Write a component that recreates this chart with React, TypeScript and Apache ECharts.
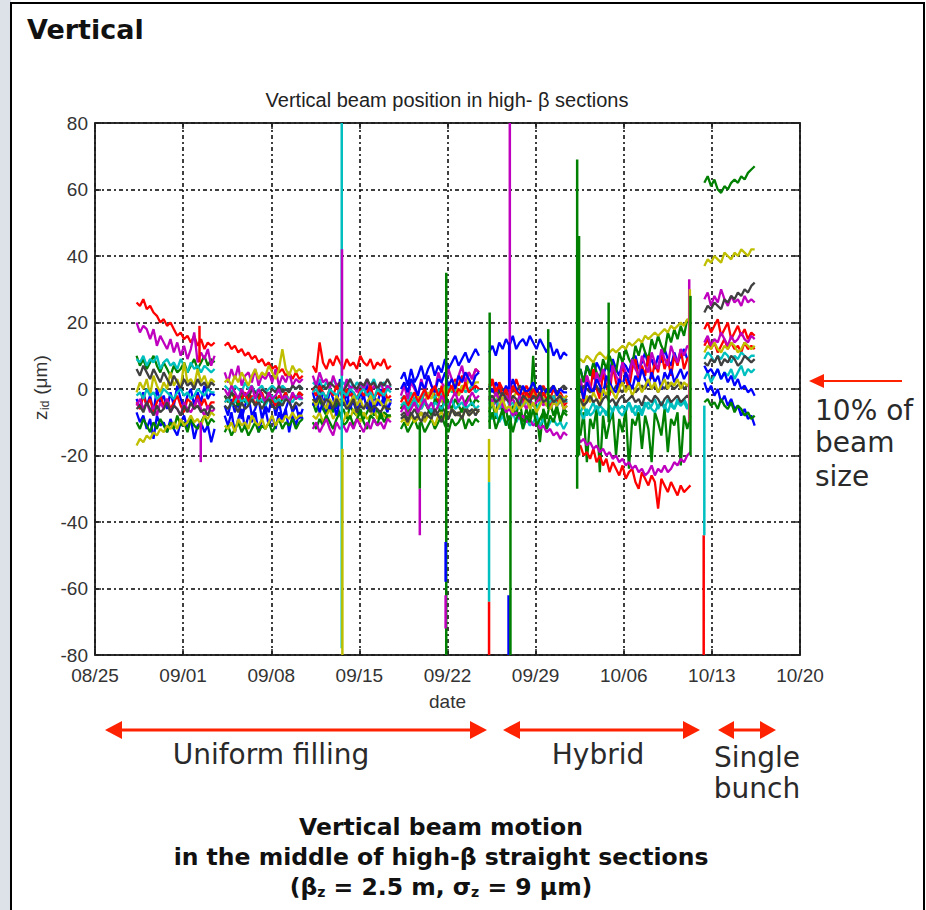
import React, { useEffect, useRef } from "react";
import * as echarts from "echarts";

// ---------- axis / segments ----------
const dateLabels = ["08/25", "09/01", "09/08", "09/15", "09/22", "09/29", "10/06", "10/13", "10/20"];
const segStart = [3.3, 10.3, 17.3, 24.3, 31.3, 38.3, 48.4];
const segEnd = [9.5, 16.5, 23.5, 30.5, 37.5, 47.3, 52.4];

// ---------- series values (one array per run segment) ----------
const blueA = [
  [-3, -6, -1, -5, -2, -7, 0, -4, -2, -6, -1, -5, 1, -3, -6, -2, 0, -5, -1, -4, 1, -3, -1, -2],
  [-5, -8, -3, -7, -4, -9, -5, -2, -8, -6, -3, -9, -5, -7, -2, -8, -4, -9, -6, -3, -7, -5, -9, -6],
  [-1, -5, 2, -4, -7, 0, -3, -6, 3, -2, -5, 1, -4, -7, -1, -3, 2, -6, -2, -5, 0, -4, -7, -3],
  [3, 5, 1, 6, 2, 4, 7, 3, 6, 8, 4, 7, 5, 9, 6, 8, 10, 7, 9, 11, 8, 10, 12, 10],
  [11, 13, 10, 14, 12, 15, 13, 16, 12, 14, 15, 13, 16, 14, 12, 15, 13, 11, 14, 10, 12, 9, 11, 10],
  [4, 6, 2, 7, 5, 3, 8, 6, 4, 7, 5, 9, 6, 4, 8, 7, 5, 9, 10, 6, 8, 11, 7, 9, 6, 10, 8, 12, 9, 7, 11, 8, 10, 12, 9, 10],
  [2, -1, 1, -2, 0, -4, -2, -5, -3, -6, -5, -8, -6, -9, -8, -11],
];
const greenA = [
  [10, 7, 9, 6, 8, 10, 7, 5, 8, 6, 4, 7, 5, 6, 8, 5, 7, 9, 6, 8, 10, 7, 9, 8],
  [-2, -4, -1, -3, -5, -2, -4, -1, -3, -5, -2, -4, -3, -1, -4, -2, -5, -3, -1, -4, -2, -3, -1, -2],
  [-4, -7, -3, -6, -8, -5, -7, -4, -8, -6, -9, -5, -7, -8, -6, -9, -7, -5, -8, -6, -9, -7, -8, -8],
  [-12, -10, -13, -11, -9, -12, -10, -13, -11, -9, -12, -10, -8, -11, -13, -9, -11, -10, -8, -12, -9, -11, -9, -10],
  [-7, -4, -9, 2, -8, -6, -12, -5, -8, -3, -10, -6, -9, 10, -7, -16, -6, -9, -4, -8, -5, -10, -6, -7],
  [3, 6, 2, 7, 4, 8, 5, 3, 9, 6, 10, 7, 5, 11, 8, 12, 9, 7, 13, 10, 14, 11, 9, 15, 12, 16, 13, 11, 17, 14, 18, 15, 19, 16, 21, 19],
  [62, 64, 61, 63, 60, 59, 61, 60, 62, 63, 62, 64, 63, 65, 66, 67],
];
const redA = [
  [26, 25, 27, 24, 25, 23, 22, 20, 21, 19, 20, 18, 16, 17, 15, 16, 14, 16, 13, 15, 12, 14, 13, 14],
  [13, 14, 12, 13, 11, 12, 10, 11, 9, 10, 8, 9, 7, 8, 6, 7, 5, 6, 4, 5, 3, 5, 3, 4],
  [7, 5, 14, 8, 6, 9, 7, 10, 8, 6, 9, 7, 8, 6, 10, 8, 7, 9, 6, 8, 7, 9, 6, 7],
  [-6, -4, -7, -3, -5, -2, -4, -1, -3, 0, -2, -4, 1, -1, 2, 0, 3, 1, 4, 2, 5, 3, 6, 5],
  [1, 3, -1, 2, 0, -2, 1, -1, 3, 0, -2, 1, -1, -3, 0, -2, 1, -1, -3, 0, -2, -1, -3, -2],
  [-2, 3, -4, 4, -1, 6, 0, -3, 5, 1, -2, 7, 2, -1, 8, 3, 0, 6, 9, 2, 7, 4, 10, 3, 8, 5, 11, 6, 9, 4, 10, 7, 12, 6, 9, 10],
  [18, 20, 17, 19, 21, 16, 18, 20, 15, 17, 19, 16, 18, 15, 17, 16],
];
const cyanA = [
  [9, 8, 10, 7, 9, 8, 10, 6, 8, 9, 7, 8, 6, 9, 7, 5, 8, 6, 7, 5, 7, 6, 5, 6],
  [1, 0, -1, 1, 0, -1, 2, 0, 1, -1, 0, 1, -1, 0, 1, 0, -1, 1, 0, -1, 1, 0, 1, 0],
  [2, 1, 3, 0, 2, 1, 3, 1, 0, 2, 1, 3, 0, 2, 1, 0, 2, 1, 3, 0, 1, 2, 0, 1],
  [-3, -2, -4, -1, -3, -2, -4, 0, -2, -1, -3, 0, -2, -1, 1, -1, 0, -2, 1, -1, 0, 1, -1, 0],
  [-8, -9, -7, -10, -8, -11, -9, -7, -10, -8, -12, -9, -11, -10, -8, -11, -9, -12, -10, -9, -11, -10, -12, -10],
  [-6, -7, -5, -8, -6, -4, -7, -5, -6, -8, -5, -7, -4, -6, -5, -7, -4, -6, -8, -5, -7, -4, -6, -5, -3, -6, -4, -5, -7, -4, -6, -3, -5, -4, -6, -4],
  [3, 5, 2, 4, 6, 3, 5, 4, 6, 3, 5, 7, 4, 6, 5, 6],
];
const magentaA = [
  [20, 17, 19, 18, 15, 18, 13, 16, 14, 12, 15, 11, 14, 10, 13, 9, 12, 17, 8, 11, 9, 12, 7, 10],
  [5, 2, 6, 3, 7, 1, 4, 5, 2, 6, 1, 4, 3, 5, 2, 6, 1, 4, 2, 5, 1, 3, 2, 3],
  [4, 1, 5, 2, 3, 0, 4, 1, 2, -1, 3, 0, 1, -1, 2, 0, 3, -1, 1, 0, 2, -1, 1, 0],
  [-2, 1, -3, 2, 0, -2, 3, -1, 4, 1, -1, 5, 2, 0, 6, 3, 1, 4, 7, 2, 5, 3, 6, 5],
  [-3, -5, -4, -6, -5, -7, -6, -8, -7, -9, -8, -10, -9, -11, -10, -12, -11, -13, -12, -14, -13, -15, -13, -14],
  [0, 3, -2, 4, 1, -1, 5, 2, 6, 3, 1, 7, 4, 2, 8, 5, 3, 9, 6, 4, 10, 7, 5, 11, 8, 6, 12, 9, 7, 13, 10, 8, 12, 10, 13, 12],
  [27, 29, 25, 28, 26, 30, 27, 25, 28, 26, 27, 25, 28, 26, 27, 26],
];
const yellowA = [
  [-1, 2, 0, 3, -2, 4, 1, -1, 2, 0, 5, 1, 3, 0, 8, 2, 3, 1, 6, 2, 4, 1, 3, 2],
  [2, 3, 1, 4, 2, 5, 3, 1, 4, 6, 3, 5, 4, 7, 5, 3, 6, 12, 6, 4, 7, 5, 6, 5],
  [-8, -9, -7, -10, -8, -6, -9, -7, -8, -10, -7, -9, -6, -8, -10, -7, -9, -8, -6, -9, -7, -8, -9, -8],
  [-6, -4, -7, -3, -5, -2, -6, -4, -1, -3, 0, -2, -4, 1, -1, 0, 2, -2, 1, 0, 3, 1, 2, 2],
  [-3, -2, -4, -1, -3, -2, -4, -3, -1, -2, -4, -2, -3, -1, -2, -4, -3, -1, -2, -3, -1, -2, -3, -2],
  [8, 9, 8, 10, 9, 8, 10, 11, 10, 9, 11, 12, 11, 12, 13, 12, 14, 13, 14, 15, 14, 16, 15, 16, 17, 16, 17, 18, 17, 19, 18, 19, 20, 19, 21, 20],
  [37, 39, 38, 40, 39, 38, 41, 40, 39, 41, 40, 42, 41, 40, 42, 42],
];
const grayA = [
  [6, 4, 7, 5, 3, 6, 4, 2, 5, 3, 1, 4, 2, 0, 3, 1, 2, 0, 3, 1, 2, 0, 2, 1],
  [-2, -3, -1, -2, -3, -1, -2, -3, 0, -1, -2, 0, -1, -2, 0, -1, 1, -1, 0, -1, 1, 0, 1, 0],
  [0, 1, -1, 1, 0, 2, 1, 0, 2, -1, 1, 3, 1, 0, 2, 1, 3, 1, 2, 0, 2, 1, 3, 1],
  [-8, -7, -9, -8, -6, -8, -7, -9, -7, -6, -8, -7, -5, -7, -9, -6, -7, -8, -6, -5, -7, -6, -8, -6],
  [-1, 0, -2, -1, 0, -1, -2, 0, -1, 1, 0, -1, -2, 0, -1, 1, 0, -1, 0, 1, -1, 0, 1, 0],
  [0, -1, 1, 0, -1, 0, 1, -1, 0, 1, 0, -1, 1, 0, -1, 1, 0, 1, -1, 0, 1, 0, 2, 0, 1, -1, 1, 0, 2, 1, 0, 1, 2, 0, 1, 1],
  [23, 25, 24, 26, 25, 24, 27, 26, 28, 27, 29, 28, 30, 29, 31, 32],
];
const blueB = [
  [-7, -10, -8, -12, -9, -15, -8, -11, -10, -13, -9, -12, -14, -10, -8, -12, -9, -15, -11, -10, -13, -11, -16, -12],
  [-8, -11, -7, -13, -9, -6, -12, -8, -10, -7, -13, -9, -6, -11, -8, -12, -7, -10, -6, -13, -8, -11, -7, -9],
  [-5, -3, -7, -4, -2, -6, -4, -8, -3, -5, -1, -6, -3, -7, -4, -2, -6, -4, -7, -3, -5, -2, -6, -4],
  [0, 2, -1, 3, 1, -2, 2, 0, 4, 1, -1, 3, 2, 5, 1, 3, 0, 4, 2, 5, 3, 1, 4, 5],
  [1, -1, 2, 0, -2, 1, -1, 3, 0, -2, 1, -1, 0, 2, -1, 1, -2, 0, -1, 1, -2, 0, -1, -1],
  [-2, 1, -3, 2, 0, -1, 3, 1, -2, 4, 2, 0, -1, 3, 1, 5, 2, 0, 4, 2, 6, 3, 1, 5, 2, 4, 0, 5, 3, 6, 2, 4, 6, 3, 5, 5],
  [7, 5, 6, 4, 6, 3, 5, 2, 4, 1, 3, 0, 1, -1, 0, -2],
];
const greenB = [
  [-10, -12, -9, -11, -13, -10, -12, -9, -11, -13, -10, -12, -8, -11, -10, -13, -9, -11, -12, -10, -8, -11, -9, -10],
  [-13, -11, -14, -12, -10, -13, -11, -14, -12, -10, -13, -11, -12, -10, -13, -11, -9, -12, -10, -11, -9, -12, -10, -9],
  [-10, -12, -9, -11, -8, -10, -12, -9, -7, -11, -10, -8, -11, -9, -7, -10, -12, -8, -9, -11, -7, -10, -8, -8],
  [-6, -4, -8, -5, -3, -7, -5, -4, -6, -8, -3, -5, -7, -2, -4, -6, -3, -5, -7, -4, -2, -5, -3, -4],
  [-10, -7, -12, -9, -6, -11, -8, -13, -9, -7, -12, -8, -10, -6, -11, -9, -7, -12, -8, -10, -6, -9, -7, -8],
  [-10, -14, -7, -22, -9, -12, -6, -25, -8, -15, -10, -7, -20, -9, -13, -6, -24, -9, -11, -7, -18, -8, -12, -22, -7, -10, -14, -6, -19, -9, -11, -7, -23, -8, -12, -8],
  [-4, -3, -5, -4, -6, -3, -5, -6, -4, -7, -5, -6, -8, -7, -9, -8],
];
const redB = [
  [-4, -6, -2, -5, -3, -7, -4, -2, -5, -3, -6, -4, -2, -5, -7, -3, -4, -6, -2, -5, -3, -6, -4, -4],
  [-4, -3, -5, -2, -4, -3, -1, -4, -2, -5, -3, -1, -4, -2, -3, -5, -2, -3, -1, -4, -2, -3, -1, -2],
  [0, -2, 1, -1, -3, 0, -2, 1, -1, -3, 0, -2, -1, -3, 0, -2, -1, 1, -3, -1, -2, 0, -3, -2],
  [-4, -2, -5, -3, -1, -4, -2, 0, -3, -1, 1, -2, 0, -3, -1, 1, -2, 0, -1, 2, -1, 0, 1, 0],
  [0, 2, -1, 1, -2, 0, -3, 1, -1, -2, -4, -1, -3, 0, -2, -4, -1, -3, -5, -2, -4, -3, -5, -4],
  [-18, -17, -20, -19, -21, -18, -22, -20, -23, -21, -25, -22, -24, -26, -23, -27, -25, -24, -28, -30, -25, -27, -29, -26, -28, -36, -27, -29, -31, -28, -30, -32, -29, -31, -30, -29],
  [13, 15, 12, 14, 11, 13, 15, 12, 14, 12, 13, 11, 14, 12, 13, 12],
];
const cyanB = [
  [-2, -1, -3, 0, -2, -1, -3, -2, 0, -1, -2, -3, -1, 0, -2, -1, -3, -2, 0, -1, -2, 0, -1, -1],
  [-4, -3, -5, -4, -2, -4, -3, -5, -3, -2, -4, -3, -5, -3, -2, -4, -3, -5, -2, -3, -4, -2, -3, -3],
  [-1, 0, -2, -1, -3, 0, -1, -2, 0, -1, -2, 0, -1, -3, -1, 0, -2, -1, -3, 0, -1, -2, 0, -1],
  [-5, -4, -6, -5, -3, -5, -6, -4, -5, -7, -4, -5, -6, -4, -5, -3, -6, -5, -4, -6, -5, -4, -6, -5],
  [-4, -5, -3, -6, -4, -2, -5, -4, -6, -3, -5, -4, -3, -5, -6, -4, -3, -5, -4, -2, -5, -4, -3, -4],
  [-8, -7, -9, -6, -8, -7, -5, -8, -6, -7, -9, -6, -5, -7, -8, -6, -4, -7, -5, -6, -8, -5, -4, -6, -7, -5, -4, -6, -3, -5, -6, -4, -5, -3, -5, -5],
  [9, 11, 10, 8, 10, 9, 11, 10, 8, 10, 9, 11, 10, 9, 10, 10],
];
const magentaB = [
  [-5, -3, -6, -4, -7, -5, -8, -4, -6, -3, -7, -5, -6, -8, -4, -6, -7, -5, -3, -6, -8, -5, -7, -6],
  [0, -2, 1, -1, -3, 0, -2, -1, 1, -3, 0, -2, -4, -1, -3, -2, 0, -3, -2, -4, -1, -3, -2, -3],
  [-12, -10, -13, -11, -9, -12, -14, -10, -12, -11, -13, -10, -12, -9, -11, -13, -10, -12, -9, -11, -10, -12, -9, -10],
  [-7, -5, -8, -6, -4, -7, -5, -3, -6, -4, -7, -5, -2, -4, -6, -3, -1, -4, -2, -5, -3, -1, -3, -2],
  [-2, -4, -1, -3, -5, -2, -4, -3, -5, -2, -4, -6, -3, -5, -4, -2, -5, -3, -6, -4, -5, -3, -6, -5],
  [-14, -16, -15, -17, -16, -18, -17, -19, -18, -20, -19, -21, -20, -22, -21, -23, -22, -24, -23, -25, -24, -26, -25, -23, -26, -24, -25, -23, -25, -24, -22, -23, -21, -22, -20, -19],
  [14, 16, 13, 15, 14, 17, 15, 13, 16, 14, 15, 17, 15, 14, 16, 15],
];
const yellowB = [
  [-17, -15, -16, -14, -15, -13, -14, -12, -13, -11, -12, -10, -12, -9, -11, -10, -8, -10, -9, -11, -8, -9, -7, -8],
  [-11, -12, -10, -13, -9, -11, -10, -12, -8, -10, -11, -9, -12, -10, -8, -11, -9, -10, -8, -9, -7, -9, -8, -8],
  [-3, -5, -2, -4, -6, -3, -5, -2, -4, -3, -6, -4, -2, -5, -3, -6, -4, -2, -5, -3, -4, -6, -3, -4],
  [-10, -9, -11, -8, -10, -9, -7, -10, -8, -9, -11, -8, -7, -9, -8, -6, -8, -7, -9, -6, -8, -7, -6, -7],
  [-6, -4, -7, -5, -3, -6, -5, -7, -4, -6, -5, -3, -6, -4, -7, -5, -3, -5, -6, -4, -5, -3, -6, -5],
  [-5, -3, -6, -2, -4, -1, -3, -5, 0, -2, 1, -1, -3, 0, 2, -1, 1, -2, 0, 2, -1, 1, 3, 0, 2, -1, 1, 3, 0, 2, 1, 3, 0, 2, 1, 2],
  [11, 13, 12, 14, 12, 11, 13, 12, 14, 13, 11, 12, 14, 13, 12, 13],
];
const grayB = [
  [-6, -5, -7, -4, -6, -8, -5, -7, -6, -4, -7, -5, -6, -8, -5, -7, -4, -6, -5, -7, -6, -8, -5, -6],
  [-5, -6, -4, -5, -7, -4, -6, -5, -3, -5, -4, -6, -4, -3, -5, -6, -4, -5, -3, -4, -6, -4, -5, -4],
  [-3, -4, -2, -5, -3, -4, -6, -3, -5, -4, -6, -5, -3, -7, -5, -6, -4, -7, -5, -6, -7, -5, -6, -6],
  [-9, -8, -10, -7, -9, -8, -10, -7, -8, -9, -6, -8, -10, -7, -9, -6, -8, -7, -9, -6, -8, -7, -6, -7],
  [-3, -2, -4, -3, -1, -3, -4, -2, -3, -5, -2, -3, -4, -2, -3, -1, -4, -3, -2, -4, -3, -2, -4, -3],
  [-4, -3, -5, -4, -2, -4, -3, -5, -3, -2, -4, -3, -5, -3, -2, -4, -3, -2, -4, -3, -5, -2, -3, -4, -2, -3, -5, -3, -2, -4, -3, -2, -4, -3, -2, -3],
  [8, 7, 9, 8, 10, 7, 9, 8, 10, 9, 7, 8, 10, 9, 8, 9],
];

const palette = ["#0000ff", "#008000", "#ff0000", "#00bfbf", "#bf00bf", "#bfbf00", "#404040"];
const seriesValues = [blueA, greenA, redA, cyanA, magentaA, yellowA, grayA, blueB, greenB, redB, cyanB, magentaB, yellowB, grayB];
const seriesColorIdx = [0, 1, 2, 3, 4, 5, 6, 0, 1, 2, 3, 4, 5, 6];

// ---------- isolated spikes (day, low, high, colour index) ----------
const spikeDay = [19.6, 19.65, 19.62, 25.8, 25.8, 27.9, 27.85, 27.85, 31.3, 31.3, 31.3, 31.35, 32.95, 32.85, 33.0, 32.9, 36.0, 38.3, 38.45, 40.8, 47.2, 47.25, 47.3, 48.35, 48.4, 8.4, 8.3];
const spikeLow = [-78, -80, 4, -30, -44, -80, -58, -72, -28, -64, -80, -12, -5, -80, -80, 0, -6, -30, -20, -10, -10, -10, -20, -80, -44, -22, 8];
const spikeHigh = [80, -18, 42, -10, -30, 35, -46, -62, -15, -28, -64, 23, 80, -62, -10, 14, 18, 69, 46, 26, 33, 30, 28, -44, -5, -10, 19];
const spikeColor = [3, 5, 4, 1, 4, 1, 0, 4, 5, 3, 2, 1, 4, 0, 1, 0, 1, 1, 1, 1, 4, 5, 1, 2, 3, 4, 2];

function buildLine(values: number[][]) {
  const pts: any[] = [];
  values.forEach((seg, s) => {
    const n = seg.length;
    seg.forEach((v, i) => {
      const t = segStart[s] + ((segEnd[s] - segStart[s]) * i) / (n - 1);
      pts.push([t, v]);
    });
    pts.push([segEnd[s] + 0.2, "-"]);
  });
  return pts;
}

const RED = "#ff2200";
const TXT = "#2a2a2a";
const SANS = '"DejaVu Sans", Verdana, sans-serif';
const ARIAL = '"Liberation Sans", Arial, sans-serif';

function doubleArrow(x1: number, x2: number, y: number, hl: number, hh: number) {
  return [
    { type: "line", shape: { x1: x1 + hl - 1, y1: y, x2: x2 - hl + 1, y2: y }, style: { stroke: RED, lineWidth: 3 } },
    { type: "polygon", shape: { points: [[x1, y], [x1 + hl, y - hh], [x1 + hl, y + hh]] }, style: { fill: RED } },
    { type: "polygon", shape: { points: [[x2, y], [x2 - hl, y - hh], [x2 - hl, y + hh]] }, style: { fill: RED } },
  ];
}

export default function App() {
  const ref = useRef<HTMLDivElement>(null);
  useEffect(() => {
    if (!ref.current) return;
    const chart = echarts.init(ref.current, undefined, { renderer: "svg" });

    const lineSeries = seriesValues.map((vals, k) => ({
      type: "line",
      name: "s" + k,
      data: buildLine(vals),
      showSymbol: false,
      symbol: "none",
      connectNulls: false,
      lineStyle: { color: palette[seriesColorIdx[k]], width: 2.3 },
      itemStyle: { color: palette[seriesColorIdx[k]] },
      silent: true,
      z: 2,
    }));
    const spikeSeries = spikeDay.map((d, k) => ({
      type: "line",
      name: "spike" + k,
      data: [[d, spikeLow[k]], [d, spikeHigh[k]]],
      showSymbol: false,
      symbol: "none",
      lineStyle: { color: palette[spikeColor[k]], width: 2.5 },
      silent: true,
      z: 3,
    }));

    const axisLineStyle = { color: "#222", width: 1.5 };
    const gridLine = { show: true, lineStyle: { color: "#000", width: 1.5, type: [4, 3, 2, 3] } };
    const tick = { show: true, inside: true, length: 6, lineStyle: axisLineStyle };
    const labelStyle = { color: "#333", fontSize: 19, fontFamily: ARIAL };

    chart.setOption({
      animation: false,
      backgroundColor: "#ffffff",
      grid: { left: 95, top: 123, width: 705, height: 532, show: true, borderColor: "#222", borderWidth: 1.5, outerBoundsMode: "none", containLabel: false },
      xAxis: [
        {
          type: "value", min: 0, max: 56, interval: 7, position: "bottom",
          axisLine: { show: true, onZero: false, lineStyle: axisLineStyle }, axisTick: tick,
          axisLabel: { ...labelStyle, margin: 11, formatter: (v: number) => dateLabels[Math.round(v / 7)] },
          splitLine: gridLine,
          name: "date", nameLocation: "middle", nameGap: 37,
          nameTextStyle: { color: "#333", fontSize: 19, fontFamily: ARIAL },
        },
        {
          type: "value", min: 0, max: 56, interval: 7, position: "top",
          axisLine: { show: true, onZero: false, lineStyle: axisLineStyle }, axisTick: tick,
          axisLabel: { show: false }, splitLine: { show: false },
        },
      ],
      yAxis: [
        {
          type: "value", min: -80, max: 80, interval: 20, position: "left",
          axisLine: { show: true, onZero: false, lineStyle: axisLineStyle }, axisTick: tick,
          axisLabel: { ...labelStyle, margin: 7 },
          splitLine: gridLine,
        },
        {
          type: "value", min: -80, max: 80, interval: 20, position: "right",
          axisLine: { show: true, onZero: false, lineStyle: axisLineStyle }, axisTick: tick,
          axisLabel: { show: false }, splitLine: { show: false },
        },
      ],
      series: [...lineSeries, ...spikeSeries],
      graphic: [
        { type: "rect", silent: true, shape: { x: 0, y: 0, width: 11, height: 910 }, style: { fill: "#dde2e8" } },
        { type: "rect", silent: true, shape: { x: 11, y: 3, width: 913, height: 920 }, style: { fill: "none", stroke: "#000", lineWidth: 2 } },
        { type: "text", x: 27, y: 29, style: { text: "Vertical", font: `bold 27px ${SANS}`, fill: "#111", textAlign: "left", textVerticalAlign: "middle" } },
        { type: "text", x: 447, y: 100, style: { text: "Vertical beam position in high- β sections", font: `20px ${ARIAL}`, fill: "#222", textAlign: "center", textVerticalAlign: "middle" } },
        {
          type: "group", x: 40, y: 389, rotation: Math.PI / 2,
          children: [
            { type: "text", x: -31, y: 0, style: { text: "z", font: `19px ${ARIAL}`, fill: "#333", textAlign: "left", textVerticalAlign: "middle" } },
            { type: "text", x: -21, y: 5, style: { text: "id", font: `12px ${ARIAL}`, fill: "#333", textAlign: "left", textVerticalAlign: "middle" } },
            { type: "text", x: -11, y: 0, style: { text: " (μm)", font: `19px ${ARIAL}`, fill: "#333", textAlign: "left", textVerticalAlign: "middle" } },
          ],
        },
        // right annotation
        { type: "line", shape: { x1: 822, y1: 381, x2: 902, y2: 381 }, style: { stroke: RED, lineWidth: 2 } },
        { type: "polygon", shape: { points: [[809, 381], [824, 374], [824, 388]] }, style: { fill: RED } },
        { type: "text", x: 815, y: 410, style: { text: "10% of", font: `28px ${SANS}`, fill: TXT, textAlign: "left", textVerticalAlign: "middle" } },
        { type: "text", x: 815, y: 442, style: { text: "beam", font: `28px ${SANS}`, fill: TXT, textAlign: "left", textVerticalAlign: "middle" } },
        { type: "text", x: 815, y: 476, style: { text: "size", font: `28px ${SANS}`, fill: TXT, textAlign: "left", textVerticalAlign: "middle" } },
        // phase arrows
        ...doubleArrow(105, 487, 730, 17, 9),
        ...doubleArrow(503, 700, 730, 17, 9),
        ...doubleArrow(718, 776, 730, 16, 9),
        { type: "text", x: 271, y: 754, style: { text: "Uniform filling", font: `28px ${SANS}`, fill: TXT, textAlign: "center", textVerticalAlign: "middle" } },
        { type: "text", x: 598, y: 754, style: { text: "Hybrid", font: `28px ${SANS}`, fill: TXT, textAlign: "center", textVerticalAlign: "middle" } },
        { type: "text", x: 757, y: 757, style: { text: "Single", font: `28px ${SANS}`, fill: TXT, textAlign: "center", textVerticalAlign: "middle" } },
        { type: "text", x: 757, y: 788, style: { text: "bunch", font: `28px ${SANS}`, fill: TXT, textAlign: "center", textVerticalAlign: "middle" } },
        // bottom caption
        { type: "text", x: 441, y: 827, style: { text: "Vertical beam motion", font: `bold 23.5px ${SANS}`, fill: "#111", textAlign: "center", textVerticalAlign: "middle" } },
        { type: "text", x: 441, y: 857, style: { text: "in the middle of high-β straight sections", font: `bold 23.5px ${SANS}`, fill: "#111", textAlign: "center", textVerticalAlign: "middle" } },
        {
          type: "text", x: 441, y: 886,
          style: {
            text: "{n|(β}{s|z}{n| = 2.5 m, σ}{s|z}{n| = 9 μm)}",
            textAlign: "center", textVerticalAlign: "middle",
            rich: {
              n: { font: `bold 23.5px ${SANS}`, fill: "#111", verticalAlign: "bottom", lineHeight: 26 },
              s: { font: `bold 14px ${SANS}`, fill: "#111", verticalAlign: "bottom", lineHeight: 22 },
            },
          },
        },
      ],
    });
    return () => chart.dispose();
  }, []);
  return <div ref={ref} style={{ position: "fixed", left: 0, top: 0, width: 926, height: 910, background: "#fff" }} />;
}
